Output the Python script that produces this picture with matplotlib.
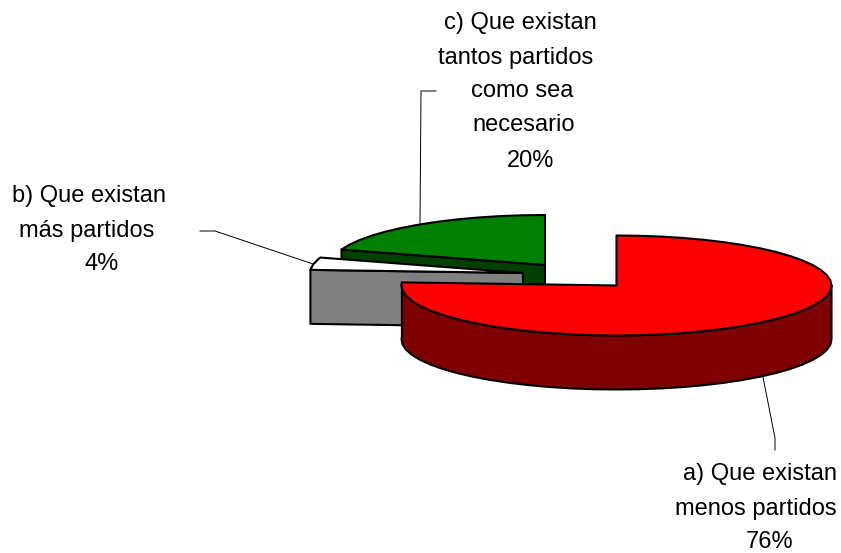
import numpy as np
import matplotlib
matplotlib.use("Agg")
import matplotlib.pyplot as plt
from matplotlib.patches import Polygon

categories = ["a) Que existan menos partidos", "b) Que existan más partidos",
              "c) Que existan tantos partidos como sea necesario"]
values = [76, 4, 20]
top_colors = ["#ff0000", "#ffffff", "#008000"]
side_colors = ["#7f0000", "#808080", "#004000"]

plt.rcParams['font.family'] = ['Liberation Sans', 'DejaVu Sans']

RY, DEPTH = 50, 54
radii = [215, 213, 214]
centers = [(616.5, 285.5), (523, 273), (545, 265)]


def ellipse_pt(center, rx, deg):
    # degrees clockwise from 12 o'clock
    a = np.radians(deg)
    return center[0] + rx * np.sin(a), center[1] - RY * np.cos(a)


def arc(center, rx, a0, a1, step=6):
    angles = np.append(np.arange(a0, a1, step), a1)
    return [ellipse_pt(center, rx, d) for d in angles]


def shifted(points):
    return [(x, y + DEPTH) for x, y in points]


def add_poly(ax, points, color):
    ax.add_patch(Polygon(points, closed=True, facecolor=color, edgecolor="black",
                         linewidth=1.5, joinstyle="round"))


fig = plt.figure(figsize=(8.41, 5.53), dpi=100)
ax = fig.add_axes([0, 0, 1, 1])
ax.set_xlim(0, 841)
ax.set_ylim(553, 0)
ax.axis("off")

# slice angles from the values
total = sum(values)
edges = np.cumsum([0] + values) / total * 360
starts, ends = edges[:-1], edges[1:]

# back to front: green, white/gray, red
for i in [2, 1]:
    c = centers[i]
    p = ellipse_pt(c, radii[i], starts[i])
    add_poly(ax, [c, p, (p[0], p[1] + DEPTH), (c[0], c[1] + DEPTH)], side_colors[i])
    add_poly(ax, [c] + arc(c, radii[i], starts[i], ends[i]), top_colors[i])

c = centers[0]
outer = arc(c, radii[0], 90, ends[0])
add_poly(ax, outer + shifted(outer)[::-1], side_colors[0])
add_poly(ax, [c] + arc(c, radii[0], starts[0], ends[0]), top_colors[0])

# leader lines
ax.plot([420, 421, 436], [223, 91, 91], color="black", lw=0.7)
ax.plot([313, 215, 200], [264, 231, 231], color="black", lw=0.7)
ax.plot([763, 775, 775], [377, 438, 450], color="black", lw=0.7)

# labels, line by line like the original
label_lines = [
    ("c) Que existan", 520, 23), ("tantos partidos", 516, 58), ("como sea", 522.5, 91),
    ("necesario", 523.5, 125), (f"{values[2]}%", 530.5, 161),
    ("b) Que existan", 89, 196), ("más partidos", 87, 231), (f"{values[1]}%", 102, 264),
    ("a) Que existan", 760, 474), ("menos partidos", 756, 509), (f"{values[0]}%", 770, 542),
]
for txt, x, y in label_lines:
    ax.text(x, y, txt, fontsize=17, ha="center", va="center", color="black")

fig.savefig("out.png", dpi=100)
